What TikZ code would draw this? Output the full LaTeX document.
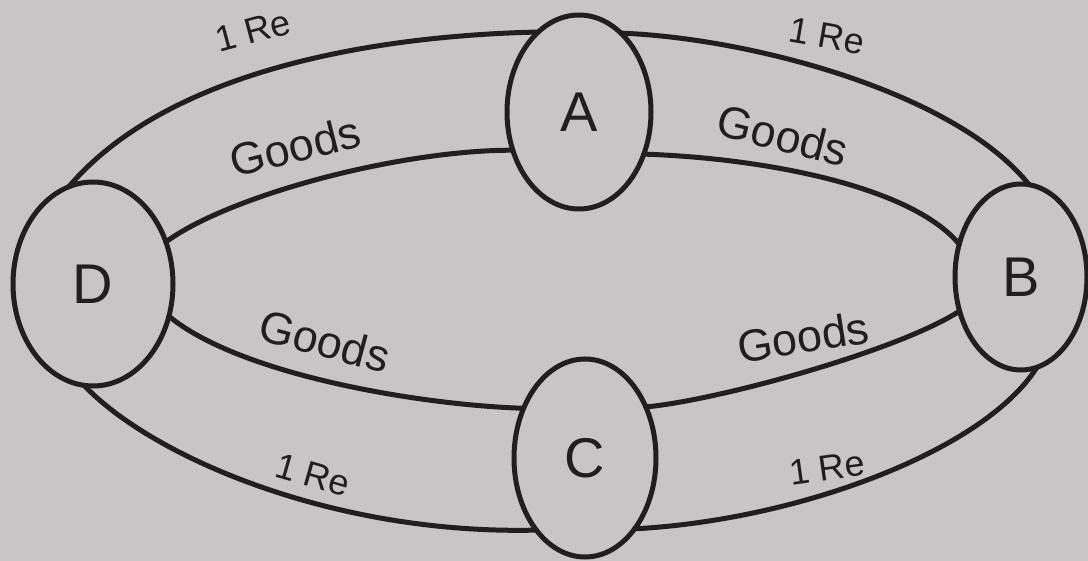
\documentclass[tikz,border=0pt]{standalone}
\usepackage{fontspec}
\setmainfont{Liberation Sans}
\usetikzlibrary{shapes.geometric}
\definecolor{paper}{RGB}{199,197,198}
\definecolor{ink}{RGB}{32,30,31}
\tikzset{
  city/.style={ellipse, draw=ink, line width=5pt, inner sep=0pt, outer sep=0pt,
    text=ink, font=\fontsize{56}{60}\selectfont},
  flow/.style={draw=ink, line width=5pt, line cap=round},
  goodslbl/.style={text=ink, font=\fontsize{45}{48}\selectfont, inner sep=0pt},
  moneylbl/.style={text=ink, font=\fontsize{36}{40}\selectfont, inner sep=0pt}
}
\begin{document}
\begin{tikzpicture}[x=1pt,y=-1pt]
\fill[paper] (0,0) rectangle (1088,561);
\useasboundingbox (0,0) rectangle (1088,561);

% circles
\node[city, minimum width=144pt, minimum height=194pt] (A) at (579,112) {A};
\node[city, minimum width=132pt, minimum height=186pt] (B) at (1021,277) {B};
\node[city, minimum width=142pt, minimum height=198pt] (C) at (585,458) {C};
\node[city, minimum width=160pt, minimum height=204pt] (D) at (93,284) {D};

% outer ring (money)
\draw[flow] (D.104) .. controls (175,62) and (400,35) .. (A.117.6);
\draw[flow] (A.62.9) .. controls (750,38) and (955,92) .. (B.85.8);
\draw[flow] (B.-80) .. controls (985,450) and (800,520) .. (C.-55);
\draw[flow] (C.-124.7) .. controls (330,535) and (150,455) .. (D.-95.5);

% inner ring (goods)
\draw[flow] (D.30.7) .. controls (230,195) and (400,150) .. (A.210.8);
\draw[flow] (A.-33.5) .. controls (760,158) and (910,185) .. (B.152);
\draw[flow] (B.209.8) .. controls (900,350) and (720,400) .. (C.40);
\draw[flow] (C.141.9) .. controls (420,405) and (240,375) .. (D.-23.8);

% labels
\node[moneylbl, rotate=15]  (m1) at (253,31)  {1 Re};
\node[moneylbl, rotate=-10] (m2) at (827,36)  {1 Re};
\node[moneylbl, rotate=-16] (m3) at (313,475) {1 Re};
\node[moneylbl, rotate=8]   (m4) at (827,468) {1 Re};

\node[goodslbl, rotate=14]  (g1) at (295,146) {Goods};
\node[goodslbl, rotate=-14] (g2) at (783,135) {Goods};
\node[goodslbl, rotate=-15] (g3) at (325,341) {Goods};
\node[goodslbl, rotate=9]   (g4) at (803,337) {Goods};
\end{tikzpicture}
\end{document}
